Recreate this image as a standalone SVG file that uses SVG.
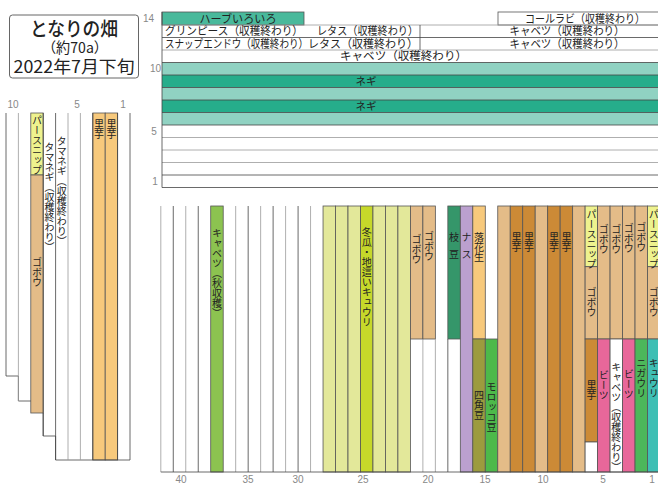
<svg xmlns="http://www.w3.org/2000/svg" width="658" height="485" viewBox="0 0 658 485">
<style>
text{font-family:"Noto Sans CJK JP","Noto Sans",sans-serif;fill:#222}
.h{font-size:11.5px}
.v{writing-mode:vertical-rl;font-size:10px}
.n{font-family:"Liberation Sans",sans-serif;font-size:10px;fill:#888}
.b{stroke:#444;stroke-width:0.8;fill:none}
.g{stroke:#9a9a9a;stroke-width:0.8;fill:none}
.c{stroke:#555;stroke-width:0.8}
.teal1{fill:#49b99b}
.tl{fill:#90d2c2}
.td{fill:#26ad8b}
.yel{fill:#eef28e}
.tan{fill:#e4bc88}
.org{fill:#f7c97c}
.brn{fill:#cc8a36}
.yg{fill:#e3e89a}
.ygs{fill:#c6d82a}
.grn{fill:#8cc350}
.eda{fill:#35966a}
.nas{fill:#bba0cf}
.shk{fill:#9c9b3e}
.mor{fill:#4db94a}
.pnk{fill:#e8679a}
.nig{fill:#4cb75a}
.kyu{fill:#3ebfb4}
.wht{fill:#fff}
</style>

<g id="title">
<rect x="9.5" y="15" width="129" height="63" rx="3" fill="#fff" stroke="#666" stroke-width="1"/>
<text x="74" y="35.5" text-anchor="middle" font-size="19" font-weight="500" textLength="88" lengthAdjust="spacingAndGlyphs">となりの畑</text>
<text x="75" y="52.5" text-anchor="middle" font-size="14.5" textLength="66" lengthAdjust="spacingAndGlyphs">（約70a）</text>
<text x="74" y="72.5" text-anchor="middle" font-size="17" textLength="121" lengthAdjust="spacingAndGlyphs">2022年7月下旬</text>
</g>

<g id="top-bed">
<g id="top-axis">
<text class="n" x="154" y="22" text-anchor="end">14</text>
<text class="n" x="161" y="72" text-anchor="end">10</text>
<text class="n" x="154" y="135" text-anchor="middle">5</text>
<text class="n" x="155" y="185" text-anchor="middle">1</text>
</g>
<g id="row14">
<rect class="teal1 c" x="162" y="12" width="142" height="13"/>
<text class="h" x="238" y="22.6" text-anchor="middle" textLength="77" lengthAdjust="spacingAndGlyphs">ハーブいろいろ</text>
<rect x="498" y="12" width="162" height="13" fill="#fff" class="c"/>
<text class="h" x="585" y="22.6" text-anchor="middle" textLength="120" lengthAdjust="spacingAndGlyphs">コールラビ（収穫終わり）</text>
</g>
<g id="rows13-11">
<line class="g" x1="162" y1="25" x2="660" y2="25"/>
<line class="b" x1="162" y1="37.5" x2="660" y2="37.5"/>
<line class="g" x1="162" y1="50" x2="660" y2="50"/>
<line class="b" x1="420" y1="25" x2="420" y2="50"/>
<text class="h" x="165" y="35.3" textLength="138" lengthAdjust="spacingAndGlyphs">グリンピース（収穫終わり）</text>
<text class="h" x="317" y="35.3" textLength="101" lengthAdjust="spacingAndGlyphs">レタス（収穫終わり）</text>
<text class="h" x="567" y="35.3" text-anchor="middle" textLength="115" lengthAdjust="spacingAndGlyphs">キャベツ（収穫終わり）</text>
<text class="h" x="165" y="47.8" textLength="143" lengthAdjust="spacingAndGlyphs">スナップエンドウ（収穫終わり）</text>
<text class="h" x="308" y="47.8" textLength="110" lengthAdjust="spacingAndGlyphs">レタス（収穫終わり）</text>
<text class="h" x="567" y="47.8" text-anchor="middle" textLength="115" lengthAdjust="spacingAndGlyphs">キャベツ（収穫終わり）</text>
<text class="h" x="340" y="60.3" textLength="127" lengthAdjust="spacingAndGlyphs">キャベツ（収穫終わり）</text>
</g>
<g id="negi">
<rect class="tl" x="162" y="62.5" width="498" height="12.5"/>
<rect class="td" x="162" y="75" width="498" height="12.5"/>
<rect class="tl" x="162" y="87.5" width="498" height="12.5"/>
<rect class="td" x="162" y="100" width="498" height="12.5"/>
<rect class="tl" x="162" y="112.5" width="498" height="12.5"/>
<line class="b" x1="162" y1="62.5" x2="660" y2="62.5"/>
<line class="b" x1="162" y1="75" x2="660" y2="75"/>
<line class="b" x1="162" y1="87.5" x2="660" y2="87.5"/>
<line class="b" x1="162" y1="100" x2="660" y2="100"/>
<line class="b" x1="162" y1="112.5" x2="660" y2="112.5"/>
<text x="366" y="85.2" text-anchor="middle" font-size="10.5">ネギ</text>
<text x="366" y="110.2" text-anchor="middle" font-size="10.5">ネギ</text>
</g>
<g id="rows5-1">
<line class="b" x1="162" y1="125" x2="660" y2="125"/>
<line class="g" x1="162" y1="137.5" x2="660" y2="137.5"/>
<line class="g" x1="162" y1="150" x2="660" y2="150"/>
<line class="g" x1="162" y1="162.5" x2="660" y2="162.5"/>
<line class="b" x1="162" y1="175" x2="660" y2="175"/>
<line class="b" x1="162" y1="187.5" x2="660" y2="187.5"/>
</g>
<line class="b" x1="162" y1="12" x2="162" y2="187.5"/>
</g>

<g id="left-bed">
<g id="left-axis">
<text class="n" x="13" y="108" text-anchor="middle">10</text>
<text class="n" x="77" y="108" text-anchor="middle">5</text>
<text class="n" x="123" y="108" text-anchor="middle">1</text>
</g>
<rect class="yel c" x="30.8" y="113" width="12.4" height="62"/>
<rect class="tan c" x="30.8" y="175" width="12.4" height="238"/>
<rect class="org c" x="92.8" y="113" width="12.4" height="347"/>
<rect class="org c" x="105.2" y="113" width="12.4" height="347"/>
<path class="b" d="M6 113V376H18.4V401H30.8M43.2 413V436H55.6V460H130V113"/>
<line class="g" x1="18.4" y1="113" x2="18.4" y2="401"/>
<line class="b" x1="43.2" y1="113" x2="43.2" y2="436"/>
<line class="b" x1="55.6" y1="113" x2="55.6" y2="460"/>
<line class="g" x1="68" y1="113" x2="68" y2="460"/>
<line class="g" x1="80.4" y1="113" x2="80.4" y2="460"/>
<line class="b" x1="92.8" y1="113" x2="92.8" y2="460"/>
<line class="b" x1="117.6" y1="113" x2="117.6" y2="460"/>
<text class="v" x="37" y="115" font-size="9.5">パースニップ</text>
<text class="v" x="37" y="257" font-size="10">ゴボウ</text>
<text class="v" x="49.4" y="142" font-size="9.2">タマネギ（収穫終わり）</text>
<text class="v" x="61.8" y="136" font-size="9.2">タマネギ（収穫終わり）</text>
<text class="v" x="99" y="119" font-size="9">里芋</text>
<text class="v" x="111.4" y="119" font-size="9">里芋</text>
</g>

<g id="bottom-bed">
<g id="bottom-axis">
<text class="n" x="181" y="483" text-anchor="middle">40</text>
<text class="n" x="248" y="483" text-anchor="middle">35</text>
<text class="n" x="298" y="483" text-anchor="middle">30</text>
<text class="n" x="363" y="483" text-anchor="middle">25</text>
<text class="n" x="428" y="483" text-anchor="middle">20</text>
<text class="n" x="485" y="483" text-anchor="middle">15</text>
<text class="n" x="543" y="483" text-anchor="middle">10</text>
<text class="n" x="603" y="483" text-anchor="middle">5</text>
<text class="n" x="652" y="483" text-anchor="middle">1</text>
</g>
<g id="cols40-28">
<line class="g" x1="160.8" y1="206" x2="160.8" y2="472"/>
<line class="b" x1="173.28" y1="206" x2="173.28" y2="472"/>
<line class="g" x1="185.76" y1="206" x2="185.76" y2="472"/>
<line class="b" x1="198.24" y1="206" x2="198.24" y2="472"/>
<rect class="grn c" x="210.72" y="206" width="12.48" height="266"/>
<line class="g" x1="235.68" y1="206" x2="235.68" y2="472"/>
<line class="b" x1="248.16" y1="206" x2="248.16" y2="472"/>
<line class="g" x1="260.64" y1="206" x2="260.64" y2="472"/>
<line class="b" x1="273.12" y1="206" x2="273.12" y2="472"/>
<line class="g" x1="285.6" y1="206" x2="285.6" y2="472"/>
<line class="b" x1="298.08" y1="206" x2="298.08" y2="472"/>
<line class="g" x1="310.56" y1="206" x2="310.56" y2="472"/>
<text class="v" x="217" y="228" font-size="9.3">キャベツ（秋収穫）</text>
</g>
<g id="cols27-21">
<rect class="yg c" x="323.04" y="206" width="12.48" height="266"/>
<rect class="yg c" x="335.52" y="206" width="12.48" height="266"/>
<rect class="yg c" x="348" y="206" width="12.48" height="266"/>
<rect class="ygs c" x="360.48" y="206" width="12.48" height="266"/>
<rect class="yg c" x="372.96" y="206" width="12.48" height="266"/>
<rect class="yg c" x="385.44" y="206" width="12.48" height="266"/>
<rect class="yg c" x="397.92" y="206" width="12.48" height="266"/>
<text class="v" x="366.7" y="227" font-size="10.5">冬瓜・地這いキュウリ</text>
</g>
<g id="cols20-14">
<rect class="tan c" x="410.4" y="206" width="12.48" height="133"/>
<rect class="tan c" x="422.88" y="206" width="12.48" height="133"/>
<line class="g" x1="422.88" y1="339" x2="422.88" y2="472"/>
<line class="g" x1="435.36" y1="339" x2="435.36" y2="472"/>
<line class="b" x1="447.84" y1="339" x2="447.84" y2="472"/>
<rect class="eda c" x="447.84" y="206" width="12.48" height="133"/>
<rect class="nas c" x="460.32" y="206" width="12.48" height="266"/>
<rect class="org c" x="472.8" y="206" width="12.48" height="133"/>
<rect class="shk c" x="472.8" y="339" width="12.48" height="133"/>
<rect class="mor c" x="485.28" y="339" width="12.48" height="133"/>
<text class="v" x="416.6" y="234" font-size="10">ゴボウ</text>
<text class="v" x="429.1" y="231" font-size="10">ゴボウ</text>
<text class="v" x="454.1" y="232" font-size="10.5" letter-spacing="7">枝豆</text>
<text class="v" x="466.6" y="232" font-size="10.5" letter-spacing="7">ナス</text>
<text class="v" x="479" y="232" font-size="11.5">落花生</text>
<text class="v" x="479" y="390" font-size="11.5">四角豆</text>
<text class="v" x="491.5" y="382" font-size="10.8">モロッコ豆</text>
</g>
<g id="cols13-7">
<rect class="tan c" x="497.76" y="206" width="12.48" height="266"/>
<rect class="brn c" x="510.24" y="206" width="12.48" height="266"/>
<rect class="brn c" x="522.72" y="206" width="12.48" height="266"/>
<rect class="tan c" x="535.2" y="206" width="12.48" height="266"/>
<rect class="brn c" x="547.68" y="206" width="12.48" height="266"/>
<rect class="brn c" x="560.16" y="206" width="12.48" height="266"/>
<rect class="tan c" x="572.64" y="206" width="12.48" height="266"/>
<text class="v" x="516.5" y="232" font-size="10">里芋</text>
<text class="v" x="529" y="232" font-size="10">里芋</text>
<text class="v" x="553.9" y="232" font-size="10">里芋</text>
<text class="v" x="566.4" y="232" font-size="10">里芋</text>
</g>
<g id="cols6-1">
<rect class="yel c" x="585.12" y="206" width="12.48" height="60.7"/>
<rect class="tan c" x="585.12" y="266.7" width="12.48" height="72.3"/>
<rect class="brn c" x="585.12" y="339" width="12.48" height="103"/>
<rect class="wht c" x="585.12" y="442" width="12.48" height="30"/>
<rect class="tan c" x="597.6" y="206" width="12.48" height="133"/>
<rect class="pnk c" x="597.6" y="339" width="12.48" height="133"/>
<rect class="tan c" x="610.08" y="206" width="12.48" height="133"/>
<rect class="wht c" x="610.08" y="339" width="12.48" height="133"/>
<rect class="tan c" x="622.56" y="206" width="12.48" height="133"/>
<rect class="pnk c" x="622.56" y="339" width="12.48" height="133"/>
<rect class="tan c" x="635.04" y="206" width="12.48" height="133"/>
<rect class="nig c" x="635.04" y="339" width="12.48" height="133"/>
<rect class="yel c" x="647.52" y="206" width="12.48" height="60.7"/>
<rect class="tan c" x="647.52" y="266.7" width="12.48" height="72.3"/>
<rect class="kyu c" x="647.52" y="339" width="12.48" height="133"/>
<text class="v" x="591.4" y="209" font-size="9.6">パースニップ</text>
<text class="v" x="591.4" y="287" font-size="10">ゴボウ</text>
<text class="v" x="591.4" y="380" font-size="10.5">里芋</text>
<text class="v" x="603.8" y="224" font-size="10">ゴボウ</text>
<text class="v" x="616.3" y="224" font-size="10">ゴボウ</text>
<text class="v" x="628.8" y="223" font-size="10">ゴボウ</text>
<text class="v" x="641.3" y="222" font-size="10">ゴボウ</text>
<text class="v" x="653.8" y="209" font-size="9.6">パースニップ</text>
<text class="v" x="653.8" y="287" font-size="10">ゴボウ</text>
<text class="v" x="603.8" y="370" font-size="10.5">ビーツ</text>
<text class="v" x="616.3" y="362" font-size="9.9">キャベツ（収穫終わり）</text>
<text class="v" x="628.8" y="369" font-size="10.5">ビーツ</text>
<text class="v" x="641.3" y="358" font-size="10.8">ニガウリ</text>
<text class="v" x="653.8" y="358" font-size="10.8">キュウリ</text>
</g>
<line class="b" x1="160.8" y1="472" x2="660" y2="472"/>
</g>
</svg>
